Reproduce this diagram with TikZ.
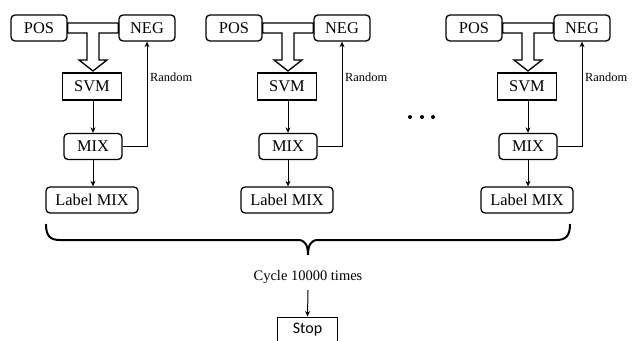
\documentclass[tikz,border=0pt]{standalone}
\usepackage{fontspec}
\setmainfont{Liberation Serif}
\newfontfamily\calfont{Carlito}
\usetikzlibrary{arrows.meta,calc}
\begin{document}
\begin{tikzpicture}[x=1pt,y=-1pt,
  rbox/.style={draw,line width=1.3pt,rounded corners=4pt,inner sep=0pt,minimum height=26pt,font=\fontsize{16.4}{18}\selectfont},
  sbox/.style={draw,line width=1.1pt,inner sep=0pt,minimum height=27pt,minimum width=59pt,font=\fontsize{16.4}{18}\selectfont},
  thinarrow/.style={line width=1pt,-{Stealth[length=5.5pt,width=5pt]}},
  fatarrow/.style={line width=1.3pt,fill=white,line join=miter},
  brace/.style={line width=2pt},
  lbl/.style={font=\fontsize{12.4}{14}\selectfont,inner sep=0pt,anchor=west}]
\useasboundingbox (0,0) rectangle (636,340);
\foreach \g/\i in {93/1,288/2,528/3}{
  \node[rbox,minimum width=56pt] (pos\i) at (\g-54,28) {POS};
  \node[rbox,minimum width=56pt] (neg\i) at (\g+54,28) {NEG};
  \node[sbox] (svm\i) at (\g-1,86.5) {SVM};
  \node[rbox,minimum width=58pt] (mix\i) at (\g,146.5) {MIX};
  \node[rbox,minimum width=92pt] (lab\i) at (\g-1,200) {Label MIX};
  \draw[fatarrow] (pos\i.east |- 0,23) -- (neg\i.west |- 0,23) -- (neg\i.west |- 0,33)
     -- (\g+6,33) -- (\g+6,60) -- (\g+14,60) -- (\g,71) -- (\g-14,60) -- (\g-6,60)
     -- (\g-6,33) -- (pos\i.east |- 0,33) -- cycle;
  \draw[thinarrow] (svm\i.south -| \g,0) -- (mix\i.north -| \g,0);
  \draw[thinarrow] (mix\i.south -| \g,0) -- (lab\i.north -| \g,0);
  \draw[thinarrow] (mix\i.east) -- (mix\i.east -| neg\i.south) -- (neg\i.south);
  \node[lbl] (rnd\i) at (\g+57,77) {Random};
}
\foreach \x/\n in {410/1,422/2,433/3}{
  \fill (\x,117) circle (2pt) coordinate (dot\n);
}
\draw[brace] (46,224) .. controls (46,236) and (50,240) .. (60,240) -- (298,240)
  .. controls (305,240) and (308,245) .. (308,255)
  .. controls (308,245) and (311,240) .. (318,240) -- (556,240)
  .. controls (566,240) and (570,236) .. (570,224);
\node[font=\fontsize{14.5}{16}\selectfont,inner sep=0pt] (cyc) at (308,277) {Cycle 10000 times};
\node[draw,line width=0.9pt,inner sep=0pt,minimum width=60pt,minimum height=26pt,font=\calfont\fontsize{16}{18}\selectfont] (stop) at (307.5,330) {Stop};
\draw[thinarrow] (308,290) -- (stop.north);
\end{tikzpicture}
\end{document}
